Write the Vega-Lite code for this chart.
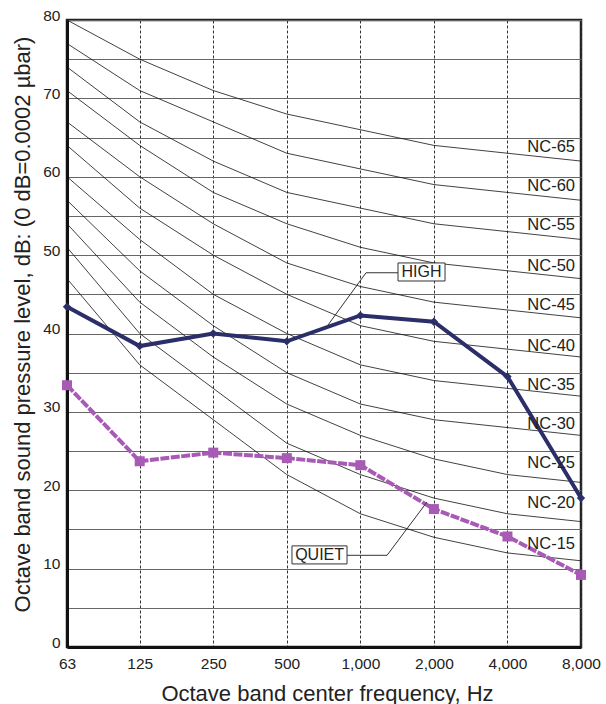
{
  "$schema": "https://vega.github.io/schema/vega-lite/v6.json",
  "width": 514,
  "height": 627,
  "autosize": {"type": "none"},
  "padding": {"left": 67, "top": 20, "right": 25, "bottom": 57},
  "background": "white",
  "config": {
    "font": "Liberation Sans",
    "view": {"stroke": "#222", "strokeWidth": 2.5},
    "axis": {"labelFont": "Liberation Sans", "titleFont": "Liberation Sans", "labelColor": "#222", "titleColor": "#222", "titleFontWeight": "normal"}
  },
  "datasets": {
    "nc": [
      {"nc":"NC-15","f":63,"db":47},{"nc":"NC-15","f":125,"db":36},{"nc":"NC-15","f":250,"db":29},{"nc":"NC-15","f":500,"db":22},{"nc":"NC-15","f":1000,"db":17},{"nc":"NC-15","f":2000,"db":14},{"nc":"NC-15","f":4000,"db":12},{"nc":"NC-15","f":8000,"db":11},
      {"nc":"NC-20","f":63,"db":51},{"nc":"NC-20","f":125,"db":40},{"nc":"NC-20","f":250,"db":33},{"nc":"NC-20","f":500,"db":26},{"nc":"NC-20","f":1000,"db":22},{"nc":"NC-20","f":2000,"db":19},{"nc":"NC-20","f":4000,"db":17},{"nc":"NC-20","f":8000,"db":16},
      {"nc":"NC-25","f":63,"db":54},{"nc":"NC-25","f":125,"db":44},{"nc":"NC-25","f":250,"db":37},{"nc":"NC-25","f":500,"db":31},{"nc":"NC-25","f":1000,"db":27},{"nc":"NC-25","f":2000,"db":24},{"nc":"NC-25","f":4000,"db":22},{"nc":"NC-25","f":8000,"db":21},
      {"nc":"NC-30","f":63,"db":57},{"nc":"NC-30","f":125,"db":48},{"nc":"NC-30","f":250,"db":41},{"nc":"NC-30","f":500,"db":35},{"nc":"NC-30","f":1000,"db":31},{"nc":"NC-30","f":2000,"db":29},{"nc":"NC-30","f":4000,"db":28},{"nc":"NC-30","f":8000,"db":27},
      {"nc":"NC-35","f":63,"db":60},{"nc":"NC-35","f":125,"db":52},{"nc":"NC-35","f":250,"db":45},{"nc":"NC-35","f":500,"db":40},{"nc":"NC-35","f":1000,"db":36},{"nc":"NC-35","f":2000,"db":34},{"nc":"NC-35","f":4000,"db":33},{"nc":"NC-35","f":8000,"db":32},
      {"nc":"NC-40","f":63,"db":64},{"nc":"NC-40","f":125,"db":56},{"nc":"NC-40","f":250,"db":50},{"nc":"NC-40","f":500,"db":45},{"nc":"NC-40","f":1000,"db":41},{"nc":"NC-40","f":2000,"db":39},{"nc":"NC-40","f":4000,"db":38},{"nc":"NC-40","f":8000,"db":37},
      {"nc":"NC-45","f":63,"db":67},{"nc":"NC-45","f":125,"db":60},{"nc":"NC-45","f":250,"db":54},{"nc":"NC-45","f":500,"db":49},{"nc":"NC-45","f":1000,"db":46},{"nc":"NC-45","f":2000,"db":44},{"nc":"NC-45","f":4000,"db":43},{"nc":"NC-45","f":8000,"db":42},
      {"nc":"NC-50","f":63,"db":71},{"nc":"NC-50","f":125,"db":64},{"nc":"NC-50","f":250,"db":58},{"nc":"NC-50","f":500,"db":54},{"nc":"NC-50","f":1000,"db":51},{"nc":"NC-50","f":2000,"db":49},{"nc":"NC-50","f":4000,"db":48},{"nc":"NC-50","f":8000,"db":47},
      {"nc":"NC-55","f":63,"db":74},{"nc":"NC-55","f":125,"db":67},{"nc":"NC-55","f":250,"db":62},{"nc":"NC-55","f":500,"db":58},{"nc":"NC-55","f":1000,"db":56},{"nc":"NC-55","f":2000,"db":54},{"nc":"NC-55","f":4000,"db":53},{"nc":"NC-55","f":8000,"db":52},
      {"nc":"NC-60","f":63,"db":77},{"nc":"NC-60","f":125,"db":71},{"nc":"NC-60","f":250,"db":67},{"nc":"NC-60","f":500,"db":63},{"nc":"NC-60","f":1000,"db":61},{"nc":"NC-60","f":2000,"db":59},{"nc":"NC-60","f":4000,"db":58},{"nc":"NC-60","f":8000,"db":57},
      {"nc":"NC-65","f":63,"db":80},{"nc":"NC-65","f":125,"db":75},{"nc":"NC-65","f":250,"db":71},{"nc":"NC-65","f":500,"db":68},{"nc":"NC-65","f":1000,"db":66},{"nc":"NC-65","f":2000,"db":64},{"nc":"NC-65","f":4000,"db":63},{"nc":"NC-65","f":8000,"db":62}
    ],
    "nclabels": [
      {"nc":"NC-65","f":8000,"db":63.8},{"nc":"NC-60","f":8000,"db":58.8},{"nc":"NC-55","f":8000,"db":53.8},{"nc":"NC-50","f":8000,"db":48.6},{"nc":"NC-45","f":8000,"db":43.6},{"nc":"NC-40","f":8000,"db":38.4},{"nc":"NC-35","f":8000,"db":33.4},{"nc":"NC-30","f":8000,"db":28.4},{"nc":"NC-25","f":8000,"db":23.5},{"nc":"NC-20","f":8000,"db":18.4},{"nc":"NC-15","f":8000,"db":13.2}
    ],
    "high": [
      {"s":"HIGH","f":63,"db":43.4},{"s":"HIGH","f":125,"db":38.4},{"s":"HIGH","f":250,"db":40.0},{"s":"HIGH","f":500,"db":39.0},{"s":"HIGH","f":1000,"db":42.3},{"s":"HIGH","f":2000,"db":41.5},{"s":"HIGH","f":4000,"db":34.5},{"s":"HIGH","f":8000,"db":19.0}
    ],
    "quiet": [
      {"s":"QUIET","f":63,"db":33.4},{"s":"QUIET","f":125,"db":23.7},{"s":"QUIET","f":250,"db":24.8},{"s":"QUIET","f":500,"db":24.1},{"s":"QUIET","f":1000,"db":23.2},{"s":"QUIET","f":2000,"db":17.6},{"s":"QUIET","f":4000,"db":14.1},{"s":"QUIET","f":8000,"db":9.2}
    ],
    "leaders": [
      {"g":"HIGH","o":1,"f":1426,"db":47.75},{"g":"HIGH","o":2,"f":1055,"db":47.75},{"g":"HIGH","o":3,"f":730,"db":40.9},
      {"g":"QUIET","o":1,"f":882,"db":11.7},{"g":"QUIET","o":2,"f":1286,"db":11.7},{"g":"QUIET","o":3,"f":1874,"db":18.5}
    ],
    "boxes": [
      {"label":"HIGH","f1":1426,"f2":2221,"db1":46.7,"db2":49.0,"fc":1780,"dbc":47.85},
      {"label":"QUIET","f1":525,"f2":882,"db1":10.6,"db2":12.9,"fc":681,"dbc":11.75}
    ]
  },
  "encoding": {
    "x": {
      "field": "f", "type": "quantitative",
      "scale": {"type": "log", "domain": [63, 8000], "nice": false},
      "axis": {
        "values": [63, 125, 250, 500, 1000, 2000, 4000, 8000],
        "format": ",",
        "labelFontSize": 15.5,
        "labelPadding": 9,
        "labelFlush": false,
        "ticks": false,
        "grid": true,
        "gridColor": "#333",
        "gridDash": [3, 2],
        "gridWidth": 1,
        "domainColor": "#111",
        "domainWidth": 3,
        "title": "Octave band center frequency, Hz",
        "titleFontSize": 22,
        "titleBaseline": "alphabetic",
        "titleX": 260,
        "titleY": 53
      }
    },
    "y": {
      "field": "db", "type": "quantitative",
      "scale": {"domain": [0, 80], "nice": false},
      "axis": {
        "values": [0, 5, 10, 15, 20, 25, 30, 35, 40, 45, 50, 55, 60, 65, 70, 75, 80],
        "labelExpr": "datum.value % 10 === 0 ? datum.label : ''",
        "labelFontSize": 15.5,
        "labelBaseline": "alphabetic",
        "labelPadding": 7,
        "ticks": false,
        "grid": true,
        "gridColor": "#666",
        "gridWidth": 1,
        "domainColor": "#111",
        "domainWidth": 3,
        "title": "Octave band sound pressure level, dB: (0 dB=0.0002 µbar)",
        "titleFontSize": 22,
        "titleBaseline": "alphabetic",
        "titleAlign": "center",
        "titleX": -38,
        "titleY": 304
      }
    }
  },
  "layer": [
    {
      "data": {"name": "nc"},
      "mark": {"type": "line", "stroke": "#111", "strokeWidth": 0.8},
      "encoding": {"detail": {"field": "nc"}}
    },
    {
      "data": {"name": "quiet"},
      "mark": {"type": "line", "stroke": "#A75BB5", "strokeWidth": 4, "strokeDash": [9, 1.5]},
      "encoding": {}
    },
    {
      "data": {"name": "quiet"},
      "mark": {"type": "point", "shape": "square", "filled": true, "fill": "#A75BB5", "opacity": 1, "size": 100},
      "encoding": {}
    },
    {
      "data": {"name": "high"},
      "mark": {"type": "line", "stroke": "#2B2E68", "strokeWidth": 4},
      "encoding": {}
    },
    {
      "data": {"name": "high"},
      "mark": {"type": "point", "shape": "diamond", "filled": true, "fill": "#2B2E68", "opacity": 1, "size": 70},
      "encoding": {}
    },
    {
      "data": {"name": "leaders"},
      "mark": {"type": "line", "stroke": "#333", "strokeWidth": 1},
      "encoding": {"detail": {"field": "g"}, "order": {"field": "o"}}
    },
    {
      "data": {"name": "boxes"},
      "mark": {"type": "rect", "fill": "white", "stroke": "#333", "strokeWidth": 1},
      "encoding": {
        "x": {"field": "f1", "type": "quantitative"},
        "x2": {"field": "f2"},
        "y": {"field": "db1", "type": "quantitative"},
        "y2": {"field": "db2"}
      }
    },
    {
      "data": {"name": "boxes"},
      "mark": {"type": "text", "fontSize": 16, "color": "#222", "align": "center", "baseline": "middle"},
      "encoding": {
        "x": {"field": "fc", "type": "quantitative"},
        "y": {"field": "dbc", "type": "quantitative"},
        "text": {"field": "label"}
      }
    },
    {
      "data": {"name": "nclabels"},
      "mark": {"type": "text", "fontSize": 16.5, "color": "#222", "align": "right", "baseline": "middle", "dx": -6},
      "encoding": {"text": {"field": "nc"}}
    }
  ]
}
